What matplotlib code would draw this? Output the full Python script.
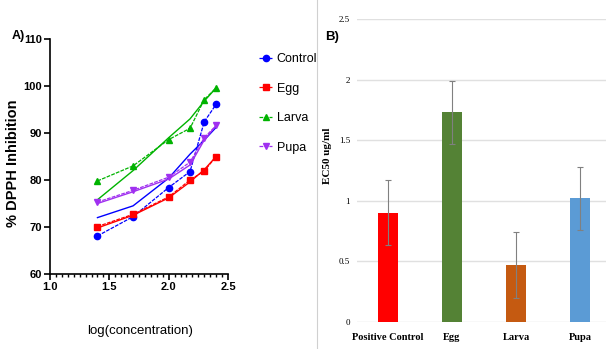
import numpy as np
from matplotlib import pyplot as plt
from matplotlib.ticker import MultipleLocator

# panel A: % DPPH inhibition vs log(concentration)
log_conc = [1.4, 1.7, 2.0, 2.18, 2.3, 2.4]
control = [68.1, 72.2, 78.4, 81.8, 92.4, 96.1]
egg = [70.1, 72.7, 76.4, 80.0, 81.9, 85.0]
larva = [79.8, 83.0, 88.6, 91.0, 97.1, 99.6]
pupa = [75.3, 77.8, 80.6, 83.8, 89.0, 91.6]

# fitted curves at the same x values
control_fit = [72.0, 74.5, 80.4, 85.5, 88.5, 91.2]
egg_fit = [69.8, 72.5, 76.2, 79.6, 82.2, 85.0]
larva_fit = [75.8, 82.0, 89.0, 93.0, 96.8, 99.6]
pupa_fit = [75.0, 77.5, 80.2, 83.2, 88.5, 91.6]

# panel B: EC50
stages = ["Positive Control", "Egg", "Larva", "Pupa"]
ec50 = [0.90, 1.73, 0.47, 1.02]
ec50_err = [0.27, 0.26, 0.27, 0.26]

fig = plt.figure(figsize=(6.06, 3.49), dpi=100)

sans = ['Liberation Sans', 'DejaVu Sans']
serif = ['Liberation Serif', 'DejaVu Serif']

# ---- panel A ----
ax = fig.add_axes([50/606, 1 - 274/349, 178/606, 235/349])
series = [
    ("Control", control, control_fit, '#0000ff', 'o'),
    ("Egg", egg, egg_fit, '#ff0000', 's'),
    ("Larva", larva, larva_fit, '#00b300', '^'),
    ("Pupa", pupa, pupa_fit, '#a030f0', 'v'),
]
for name, vals, fit, col, mk in series:
    ax.plot(log_conc, vals, color=col, lw=0.9, ls=(0, (3, 1)), marker=mk,
            ms=4.5, label=name)
    ax.plot(log_conc, fit, color=col, lw=1.0)

ax.set_xlim(1.0, 2.5)
ax.set_ylim(60, 110)
ax.xaxis.set_major_locator(MultipleLocator(0.5))
ax.xaxis.set_minor_locator(MultipleLocator(0.05))
ax.yaxis.set_major_locator(MultipleLocator(10))
ax.spines['top'].set_visible(False)
ax.spines['right'].set_visible(False)
for s in ('left', 'bottom'):
    ax.spines[s].set_linewidth(1.2)
ax.tick_params(which='major', length=4, width=1.2, pad=2)
ax.tick_params(which='minor', length=2.5, width=1.0)
ax.set_xticks([1.0, 1.5, 2.0, 2.5], ['1.0', '1.5', '2.0', '2.5'])
for lab in ax.get_xticklabels() + ax.get_yticklabels():
    lab.set_family(sans)
    lab.set_fontsize(8)
    lab.set_fontweight('bold')
ax.set_xlabel("log(concentration)", family=sans, fontsize=9.5)
ax.xaxis.set_label_coords(0.506, -0.217)
ax.set_ylabel("% DPPH Inhibition", family=sans, fontsize=10.5, fontweight='bold')
ax.yaxis.set_label_coords(-0.17, 0.47)
fig.text(12/606, 1 - 39/349, "A)", family=sans, fontsize=9, fontweight='bold')

leg = ax.legend(loc='upper left', bbox_to_anchor=(253/606, 1 - 47/349),
                bbox_transform=fig.transFigure, frameon=False,
                handlelength=1.0, labelspacing=1.4, handletextpad=0.4,
                borderpad=0, prop={'family': sans, 'size': 9})

# separator
fig.add_artist(plt.Line2D([317/606, 317/606], [0, 1], color='#d0d0d0', lw=0.8))

# ---- panel B ----
bx = fig.add_axes([357/606, 1 - 321.7/349, 249/606, 302.4/349])
x = np.arange(len(stages))
bar_cols = ['#ff0000', '#548235', '#c55a11', '#5b9bd5']
bx.bar(x, ec50, width=0.31, color=bar_cols, zorder=2)
bx.errorbar(x, ec50, yerr=ec50_err, fmt='none', ecolor='#808080', elinewidth=0.8,
            capsize=2, capthick=0.8, zorder=3)
bx.set_xlim(-0.48, 3.4)
bx.set_ylim(0, 2.5)
bx.set_yticks([0, 0.5, 1, 1.5, 2, 2.5], ['0', '0.5', '1', '1.5', '2', '2.5'])
bx.grid(axis='y', color='#e0e0e0', lw=1.0, zorder=0)
for s in bx.spines.values():
    s.set_visible(False)
bx.tick_params(length=0)
bx.tick_params(axis='y', pad=5)
bx.tick_params(axis='x', pad=8)
bx.set_xticks(x, stages)
for lab in bx.get_xticklabels():
    lab.set_family(serif)
    lab.set_fontsize(7.5)
    lab.set_fontweight('bold')
for lab in bx.get_yticklabels():
    lab.set_family(serif)
    lab.set_fontsize(6.5)
bx.set_ylabel("EC50 ug/ml", family=serif, fontsize=8, fontweight='bold')
bx.yaxis.set_label_coords(-0.1, 0.55)
fig.text(325/606, 1 - 40/349, "B)", family=sans, fontsize=9.5, fontweight='bold')

fig.savefig("out.png", dpi=100)
